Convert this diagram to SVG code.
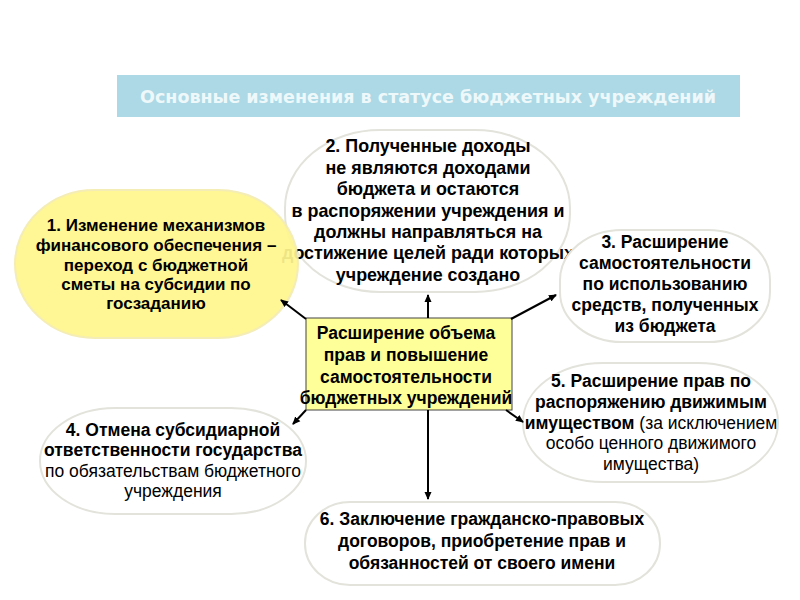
<svg xmlns="http://www.w3.org/2000/svg" width="800" height="600" viewBox="0 0 800 600">
<defs>
<marker id="ah" markerWidth="8" markerHeight="8" refX="7" refY="4" orient="auto" markerUnits="userSpaceOnUse">
<path d="M0,0.5 L8,4 L0,7.5 Z" fill="#000"/>
</marker>
<style>
text{font-family:"Liberation Sans",Arial,sans-serif;font-size:17.5px;fill:#000;text-anchor:middle}
.b{font-weight:bold}
.s17{font-size:17px}
.s18{font-size:17.9px}
.oval{fill:#fff;stroke:#e3e3dc;stroke-width:2}
.yel{fill:#fff68f;stroke:#f4ecb0;stroke-width:2;opacity:0.93}
.conn line{stroke:#000;stroke-width:2;marker-end:url(#ah)}
</style>
</defs>
<rect width="800" height="600" fill="#fff"/>
<g id="title">
<rect x="117" y="75" width="623" height="42" fill="#acd9e5"/>
<text x="428" y="103" class="b" style="fill:#eef8fa;font-size:17.5px;font-family:'DejaVu Sans',Verdana,sans-serif">Основные изменения в статусе бюджетных учреждений</text>
</g>
<g id="node2">
<rect class="oval" x="285" y="130" width="285" height="162" rx="95" ry="78"/>
<text class="b s18" x="428" y="152">2. Полученные доходы</text>
<text class="b s18" x="428" y="174">не являются доходами</text>
<text class="b s18" x="428" y="195">бюджета и остаются</text>
<text class="b s18" x="428" y="217">в распоряжении учреждения и</text>
<text class="b s18" x="428" y="238">должны направляться на</text>
<text class="b s18" x="428" y="259">достижение целей ради которых</text>
<text class="b s18" x="428" y="281">учреждение создано</text>
</g>
<g id="node1">
<rect class="yel" x="15" y="190" width="283" height="148" rx="80" ry="74"/>
<text class="b s17" x="156" y="231">1. Изменение механизмов</text>
<text class="b s17" x="156" y="251">финансового обеспечения –</text>
<text class="b s17" x="156" y="271">переход с бюджетной</text>
<text class="b s17" x="156" y="290">сметы на субсидии по</text>
<text class="b s17" x="156" y="309">госзаданию</text>
</g>
<g id="node3">
<rect class="oval" x="560" y="230" width="210" height="112" rx="62" ry="50"/>
<text class="b" x="665" y="248">3. Расширение</text>
<text class="b" x="665" y="269">самостоятельности</text>
<text class="b" x="665" y="290">по использованию</text>
<text class="b" x="665" y="311">средств, полученных</text>
<text class="b" x="665" y="332">из бюджета</text>
</g>
<g id="node5">
<rect class="oval" x="523" y="363" width="255" height="119" rx="80" ry="59"/>
<text class="b" x="651" y="387">5. Расширение прав по</text>
<text class="b" x="651" y="408">распоряжению движимым</text>
<text x="651" y="429"><tspan class="b">имуществом</tspan> (за исключением</text>
<text x="651" y="449">особо ценного движимого</text>
<text x="651" y="470">имущества)</text>
</g>
<g id="node4">
<rect class="oval" x="40" y="408" width="266" height="106" rx="75" ry="53"/>
<text class="b" x="173" y="436">4. Отмена субсидиарной</text>
<text class="b" x="173" y="456">ответственности государства</text>
<text x="173" y="477">по обязательствам бюджетного</text>
<text x="173" y="497">учреждения</text>
</g>
<g id="node6">
<rect class="oval" x="305" y="502" width="355" height="83" rx="45" ry="41"/>
<text class="b" x="482" y="525">6. Заключение гражданско-правовых</text>
<text class="b" x="482" y="547">договоров, приобретение прав и</text>
<text class="b" x="482" y="569">обязанностей от своего имени</text>
</g>
<g id="center">
<rect x="306" y="318" width="206" height="92" fill="#ffff99" stroke="#444" stroke-width="1"/>
<text class="b" x="406" y="339">Расширение объема</text>
<text class="b" x="406" y="361">прав и повышение</text>
<text class="b" x="406" y="383">самостоятельности</text>
<text class="b" x="406" y="404">бюджетных учреждений</text>
</g>
<g class="conn" id="connectors">
<line x1="428" y1="318" x2="428" y2="295"/>
<line x1="306" y1="319" x2="281" y2="300"/>
<line x1="511" y1="319" x2="556" y2="295"/>
<line x1="306" y1="410" x2="293" y2="424"/>
<line x1="506" y1="410" x2="523" y2="422"/>
<line x1="428" y1="410" x2="428" y2="499"/>
</g>
</svg>
